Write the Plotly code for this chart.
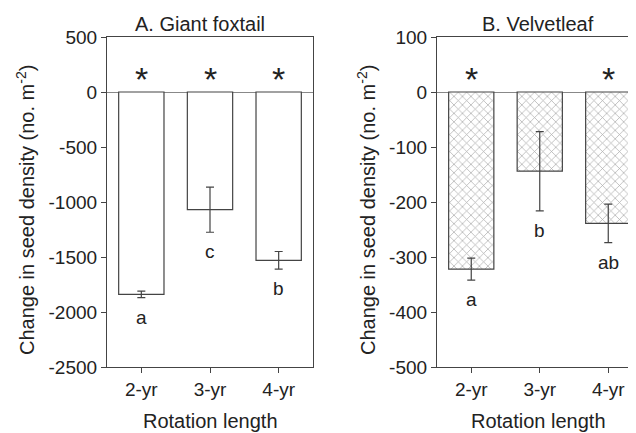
import plotly.graph_objects as go
from plotly.subplots import make_subplots

# rotation lengths and seed density change (mean, standard error)
rotations = ["2-yr", "3-yr", "4-yr"]

foxtail_change = [-1840, -1070, -1530]
foxtail_err = [30, 205, 80]
foxtail_letters = ["a", "c", "b"]
foxtail_star = [True, True, True]
foxtail_ticks = [500, 0, -500, -1000, -1500, -2000, -2500]

velvet_change = [-322, -144, -239]
velvet_err = [20, 72, 35]
velvet_letters = ["a", "b", "ab"]
velvet_star = [True, False, True]
velvet_ticks = [100, 0, -100, -200, -300, -400, -500]

axis_col = "#444444"
font = "Liberation Sans, Arial, sans-serif"

# page has an 8px body margin, so lay out in window pixels minus that
W, H, OFF = 628, 425, 8


def px(x):
    return (x - OFF) / W


def py(y):
    return 1 - (y - OFF) / H


fig = make_subplots(rows=1, cols=2)

# A. giant foxtail, open bars
fig.add_trace(go.Bar(x=rotations, y=foxtail_change,
                     marker=dict(color="white", line=dict(color=axis_col, width=1.2)),
                     error_y=dict(type="data", array=foxtail_err, color=axis_col,
                                  thickness=1.2, width=4),
                     width=0.66, showlegend=False), row=1, col=1)

# B. velvetleaf, hatched bars
fig.add_trace(go.Bar(x=rotations, y=velvet_change,
                     marker=dict(color="white", line=dict(color=axis_col, width=1.2),
                                 pattern=dict(shape="x", fgcolor="#555555", bgcolor="white",
                                              size=6, solidity=0.22)),
                     error_y=dict(type="data", array=velvet_err, color=axis_col,
                                  thickness=1.2, width=4),
                     width=0.66, showlegend=False), row=1, col=2)

# significance letters under the error bars
for xs, ys, es, ls, ax in [(rotations, foxtail_change, foxtail_err, foxtail_letters, ""),
                           (rotations, velvet_change, velvet_err, velvet_letters, "2")]:
    for x, y, e, l in zip(xs, ys, es, ls):
        fig.add_annotation(x=x, y=y - e, xref="x" + ax, yref="y" + ax, text=l,
                           showarrow=False, xanchor="center", yanchor="top", yshift=-7,
                           font=dict(size=19, color="#222222", family=font))

# asterisks above zero
for xs, stars, yv, ax in [(rotations, foxtail_star, 150, ""),
                          (rotations, velvet_star, 30, "2")]:
    for x, s in zip(xs, stars):
        if s:
            fig.add_annotation(x=x, y=yv, xref="x" + ax, yref="y" + ax, text="*",
                               showarrow=False, xanchor="center", yanchor="middle", yshift=-3,
                               font=dict(size=34, color="#222222", family=font))

axis_common = dict(showline=True, linecolor=axis_col, linewidth=1.2, mirror=True,
                   ticks="outside", ticklen=5, tickcolor=axis_col, showgrid=False,
                   automargin=False,
                   tickfont=dict(size=19, color="#222222", family=font))

fig.update_xaxes(**axis_common)
fig.update_xaxes(domain=[px(107), px(313)], range=[-0.5, 2.5], row=1, col=1)
# panel B runs off the right edge of the picture
fig.update_xaxes(domain=[px(437), 1], range=[-0.5, 2.405], row=1, col=2)

fig.update_yaxes(**axis_common, zeroline=True, zerolinecolor="#888888", zerolinewidth=1,
                 domain=[py(367), py(37)])
fig.update_yaxes(range=[-2500, 500], tickvals=foxtail_ticks,
                 ticktext=[str(v) for v in foxtail_ticks], row=1, col=1)
fig.update_yaxes(range=[-500, 100], tickvals=velvet_ticks, mirror=False,
                 ticktext=[str(v) for v in velvet_ticks], row=1, col=2)

# panel titles, axis titles
txt = dict(size=20, color="#222222", family=font)
fig.add_annotation(x=px(200), y=py(24), xref="paper", yref="paper", xanchor="center",
                   yanchor="middle", text="A. Giant foxtail", showarrow=False, font=txt)
fig.add_annotation(x=px(538), y=py(24), xref="paper", yref="paper", xanchor="center",
                   yanchor="middle", text="B. Velvetleaf", showarrow=False, font=txt)
for xp in [25, 366]:
    fig.add_annotation(x=px(xp), y=py(210), xref="paper", yref="paper",
                       xanchor="center", yanchor="middle",
                       text="Change in seed density (no. m<sup>-2</sup>)", textangle=-90,
                       showarrow=False, font=txt)
for xp in [210, 538]:
    fig.add_annotation(x=px(xp), y=py(421), xref="paper", yref="paper",
                       xanchor="center", yanchor="middle",
                       text="Rotation length", showarrow=False, font=txt)

fig.update_layout(width=W, height=H, margin=dict(l=0, r=0, t=0, b=0),
                  plot_bgcolor="white", paper_bgcolor="white")

fig.write_html("out.html")
